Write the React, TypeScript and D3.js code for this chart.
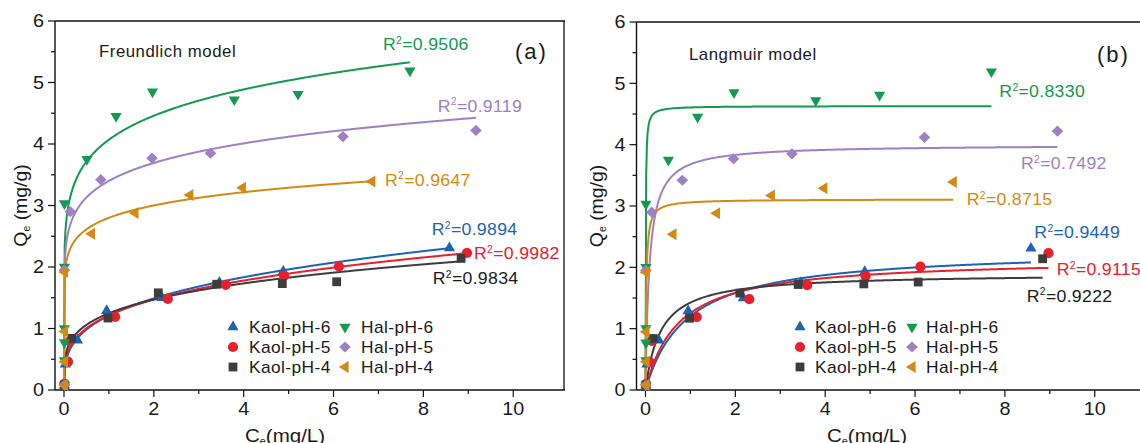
import React from 'react';
import * as d3 from 'd3';

// ---------------- data ----------------
const seriesNames = ['Kaol-pH-6', 'Kaol-pH-5', 'Kaol-pH-4', 'Hal-pH-6', 'Hal-pH-5', 'Hal-pH-4'];
const seriesColors = ['#1b63b6', '#e8202b', '#3d3d3d', '#129a50', '#a07fc3', '#d48a10'];
const seriesShapes = ['triUp', 'circle', 'square', 'triDown', 'diamond', 'triLeft'];

const kaol6: [number, number][] = [[0.01, 0.08], [0.03, 0.42], [0.3, 0.81], [0.95, 1.29], [2.18, 1.5], [3.46, 1.75], [4.88, 1.93], [8.58, 2.31]];
const kaol5: [number, number][] = [[0.01, 0.1], [0.09, 0.46], [0.14, 0.8], [1.14, 1.19], [2.31, 1.48], [3.6, 1.71], [4.9, 1.86], [6.12, 2.01], [8.97, 2.23]];
const kaol4: [number, number][] = [[0.01, 0.08], [0.17, 0.84], [0.98, 1.17], [2.1, 1.58], [3.4, 1.72], [4.86, 1.73], [6.07, 1.76], [8.84, 2.14]];
const hal6: [number, number][] = [[0.01, 0.08], [0.01, 0.48], [0.01, 0.77], [0.01, 1.0], [0.01, 2.0], [0.01, 3.03], [0.51, 3.75], [1.16, 4.45], [1.97, 4.85], [3.79, 4.72], [5.21, 4.81], [7.7, 5.19]];
const hal5: [number, number][] = [[0.01, 0.08], [0.01, 1.95], [0.14, 2.9], [0.82, 3.42], [1.96, 3.77], [3.26, 3.85], [6.21, 4.12], [9.17, 4.22]];
const hal4: [number, number][] = [[0.01, 0.08], [0.01, 0.46], [0.01, 0.95], [0.01, 1.92], [0.61, 2.54], [1.58, 2.88], [2.8, 3.17], [3.97, 3.29], [6.85, 3.39]];
const seriesData = [kaol6, kaol5, kaol4, hal6, hal5, hal4];

// Freundlich fit: Q = Kf * C^(1/n)
const freundKf = [1.21, 1.214, 1.248, 4.07, 3.4, 2.8];
const freundInvN = [0.3, 0.276, 0.237, 0.132, 0.119, 0.1];
const freundR2 = ['0.9894', '0.9982', '0.9834', '0.9506', '0.9119', '0.9647'];

// Langmuir fit: Q = Qm*KL*C/(1+KL*C)
const langQm = [2.3, 2.15, 1.9, 4.63, 4.0, 3.11];
const langKL = [1.1, 1.4, 3.0, 200, 11.5, 60];
const langR2 = ['0.9449', '0.9115', '0.9222', '0.8330', '0.7492', '0.8715'];

const xTicks = [0, 2, 4, 6, 8, 10];
const xMinor = [1, 3, 5, 7, 9];
const yTicks = [0, 1, 2, 3, 4, 5, 6];
const yMinor = [0.5, 1.5, 2.5, 3.5, 4.5, 5.5];
const xDomain: [number, number] = [-0.2, 11.13];
const yDomain: [number, number] = [0, 6];

// ---------------- layout ----------------
const FONT = "'Liberation Sans', Arial, Helvetica, sans-serif";
const panels = [
  {
    key: 'a', x0: 55, x1: 564, yTop: 21, yBot: 390, model: 'F', title: 'Freundlich model', titleX: 99, titleY: 56.5,
    tag: '(a)', tagX: 515, tagY: 59, yLabX: 27, xLabX: 245,
    r2Pos: [[431.7, 235], [474, 259.3], [432.7, 284.3], [383, 50], [437.7, 111.7], [385, 185.7]],
    legMark: [233, 345], legText: [249, 361], frameRight: true,
  },
  {
    key: 'b', x0: 636.5, x1: 1145.5, yTop: 22, yBot: 390, model: 'L', title: 'Langmuir model', titleX: 689, titleY: 60,
    tag: '(b)', tagX: 1097, tagY: 62, yLabX: 603, xLabX: 827,
    r2Pos: [[1034.3, 238.3], [1056.7, 275], [1026.7, 301.7], [999.3, 97.3], [1021, 169.3], [966.7, 205]],
    legMark: [800, 912], legText: [815, 926], frameRight: false,
  },
];
const legRows = [327, 347, 367];

function markerPath(shape: string): string {
  switch (shape) {
    case 'triUp': return 'M-5.6,3.3L5.6,3.3L0,-6.4Z';
    case 'triDown': return 'M-5.6,-3.3L5.6,-3.3L0,6.4Z';
    case 'triLeft': return 'M-6.2,0L3.6,-6L3.6,6Z';
    case 'square': return 'M-4.4,-4.4L4.4,-4.4L4.4,4.4L-4.4,4.4Z';
    case 'diamond': return 'M0,-5.6L5.8,0L0,5.6L-5.8,0Z';
    default: return d3.symbol(d3.symbolCircle, 82)() as string;
  }
}

function Txt(props: any) {
  const { x, y, size, fill = '#1a1a1a', anchor = 'start', sx = 1.05, ls = 0, rot = 0, children } = props;
  return (
    <text transform={`translate(${x},${y}) rotate(${rot}) scale(${sx},1)`} fontSize={size} fill={fill}
      textAnchor={anchor} letterSpacing={ls} fontFamily={FONT}>{children}</text>
  );
}

function Panel({ p }: { p: any }) {
  const xs = d3.scaleLinear().domain(xDomain).range([p.x0, p.x1]);
  const ys = d3.scaleLinear().domain(yDomain).range([p.yBot, p.yTop]);
  const line = d3.line<[number, number]>().x(d => xs(d[0])).y(d => ys(d[1]));
  const N = 500;
  const curves = seriesData.map((data, i) => {
    const xmax = d3.max(data, d => d[0]) as number;
    return d3.range(N + 1).map(k => {
      const c = (xmax * k) / N;
      const q = p.model === 'F'
        ? (c === 0 ? 0 : freundKf[i] * Math.pow(c, freundInvN[i]))
        : (langQm[i] * langKL[i] * c) / (1 + langKL[i] * c);
      return [c, q] as [number, number];
    });
  });
  const r2 = p.model === 'F' ? freundR2 : langR2;
  const axisW = 1.4;
  return (
    <g>
      {/* frame */}
      <line x1={p.x0} x2={p.x1 + 1} y1={p.yTop} y2={p.yTop} stroke="#111" strokeWidth={1.3} />
      {p.frameRight && <line x1={p.x1} x2={p.x1} y1={p.yTop} y2={p.yBot} stroke="#111" strokeWidth={1.3} />}
      <line x1={p.x0} x2={p.x0} y1={p.yTop} y2={p.yBot} stroke="#111" strokeWidth={axisW} />
      <line x1={p.x0} x2={p.x1 + 1} y1={p.yBot} y2={p.yBot} stroke="#111" strokeWidth={axisW} />
      {/* y ticks */}
      {yTicks.map(t => (
        <g key={'yt' + t}>
          <line x1={p.x0 - 7} x2={p.x0} y1={ys(t)} y2={ys(t)} stroke="#111" strokeWidth={1.2} />
          <Txt x={p.x0 - 11} y={ys(t) + 6.4} size={18} anchor="end" sx={1.1}>{t}</Txt>
        </g>
      ))}
      {yMinor.map(t => (
        <line key={'ym' + t} x1={p.x0 - 4} x2={p.x0} y1={ys(t)} y2={ys(t)} stroke="#111" strokeWidth={1.2} />
      ))}
      {/* x ticks */}
      {xTicks.map(t => (
        <g key={'xt' + t}>
          <line x1={xs(t)} x2={xs(t)} y1={p.yBot} y2={p.yBot + 7} stroke="#111" strokeWidth={1.2} />
          <Txt x={xs(t)} y={415} size={18} anchor="middle" sx={1.1}>{t}</Txt>
        </g>
      ))}
      {xMinor.map(t => (
        <line key={'xm' + t} x1={xs(t)} x2={xs(t)} y1={p.yBot} y2={p.yBot + 4} stroke="#111" strokeWidth={1.2} />
      ))}
      {/* axis titles */}
      <Txt x={p.xLabX} y={441.5} size={19} sx={1.08}>C<tspan fontSize={10} dy={3}>e</tspan><tspan dy={-3}>(mg/L)</tspan></Txt>
      <Txt x={p.yLabX} y={(p.yTop + p.yBot) / 2} size={18.5} rot={-90} anchor="middle" sx={1.05}>
        Q<tspan fontSize={10} dy={3}>e</tspan><tspan dy={-3}> (mg/g)</tspan>
      </Txt>
      {/* fitted curves */}
      {curves.map((c, i) => (
        <path key={'c' + i} d={line(c) as string} fill="none" stroke={seriesColors[i]} strokeWidth={2} />
      ))}
      {/* points */}
      {seriesData.map((data, i) => (
        <g key={'p' + i} fill={seriesColors[i]}>
          {data.map((d, j) => (
            <path key={j} d={markerPath(seriesShapes[i])} transform={`translate(${xs(d[0])},${ys(d[1])})`} />
          ))}
        </g>
      ))}
      {/* R2 labels */}
      {r2.map((v, i) => (
        <Txt key={'r' + i} x={p.r2Pos[i][0]} y={p.r2Pos[i][1]} size={17} fill={i === 2 ? '#1a1a1a' : seriesColors[i]} ls={0.3} sx={1.04}>
          R<tspan fontSize={10} dy={-6.5}>2</tspan><tspan dy={6.5}>={v}</tspan>
        </Txt>
      ))}
      {/* model title and tag */}
      <Txt x={p.titleX} y={p.titleY} size={16} ls={0.5}>{p.title}</Txt>
      <Txt x={p.tagX} y={p.tagY} size={22} ls={2} sx={1}>{p.tag}</Txt>
      {/* legend */}
      {seriesNames.map((name, i) => {
        const col = i < 3 ? 0 : 1;
        const row = i % 3;
        return (
          <g key={'l' + i}>
            <path d={markerPath(seriesShapes[i])} fill={seriesColors[i]}
              transform={`translate(${p.legMark[col]},${legRows[row]})`} />
            <Txt x={p.legText[col]} y={legRows[row] + 6} size={17} ls={0.4} sx={1.02}>{name}</Txt>
          </g>
        );
      })}
    </g>
  );
}

export default function App() {
  return (
    <svg width={1140} height={443} viewBox="0 0 1140 443"
      style={{ position: 'absolute', left: 0, top: 0, display: 'block', background: '#fff' }}>
      <rect x={0} y={0} width={1140} height={443} fill="#fff" />
      {panels.map(p => <Panel key={p.key} p={p} />)}
    </svg>
  );
}
